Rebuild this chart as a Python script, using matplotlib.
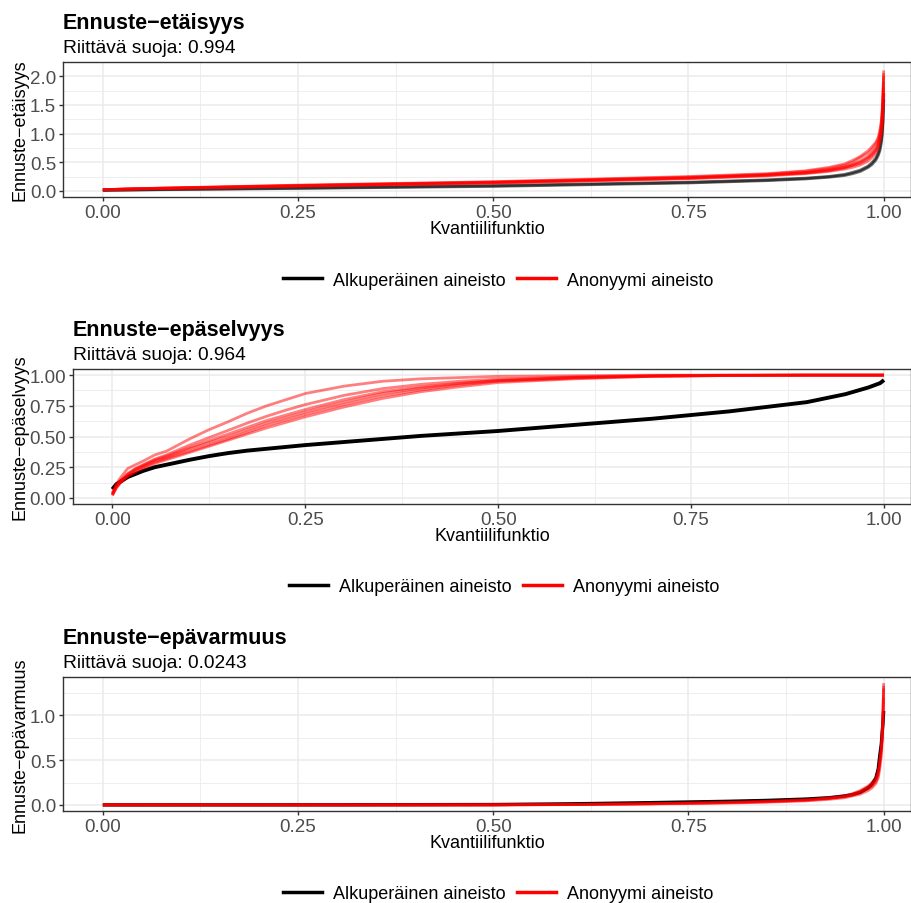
import matplotlib

matplotlib.use("Agg")
import matplotlib.pyplot as plt
from matplotlib.lines import Line2D
from matplotlib.ticker import FormatStrFormatter, MultipleLocator

plt.rcParams["font.family"] = ["Liberation Sans", "DejaVu Sans"]

# --- data: quantile functions --------------------------------------------
# Ennuste-etäisyys
p_eta = [0, 0.05, 0.1, 0.25, 0.5, 0.75, 0.85, 0.9, 0.93, 0.95, 0.96, 0.97, 0.98,
         0.985, 0.99, 0.993, 0.995, 0.997, 0.998, 0.999, 1.0]
eta_orig = [
    [0.01, 0.02, 0.025, 0.045, 0.08, 0.14, 0.18, 0.21, 0.24, 0.27, 0.30, 0.34, 0.41,
     0.46, 0.54, 0.62, 0.70, 0.85, 0.98, 1.20, 1.60],
    [0.01, 0.02, 0.03, 0.05, 0.09, 0.15, 0.19, 0.22, 0.25, 0.285, 0.32, 0.36, 0.43,
     0.49, 0.57, 0.66, 0.75, 0.90, 1.03, 1.25, 1.70],
]
eta_anon = [
    [0.02, 0.04, 0.05, 0.09, 0.15, 0.23, 0.28, 0.32, 0.37, 0.42, 0.46, 0.52, 0.60,
     0.67, 0.75, 0.84, 0.95, 1.12, 1.30, 1.55, 2.10],
    [0.02, 0.04, 0.055, 0.095, 0.155, 0.24, 0.29, 0.34, 0.39, 0.45, 0.50, 0.58, 0.66,
     0.73, 0.82, 0.90, 1.00, 1.18, 1.35, 1.60, 1.90],
    [0.02, 0.035, 0.05, 0.085, 0.14, 0.22, 0.27, 0.31, 0.35, 0.40, 0.44, 0.48, 0.56,
     0.62, 0.70, 0.78, 0.90, 1.05, 1.20, 1.45, 1.80],
    [0.02, 0.04, 0.05, 0.09, 0.145, 0.225, 0.275, 0.315, 0.36, 0.41, 0.45, 0.50, 0.58,
     0.64, 0.72, 0.81, 0.92, 1.08, 1.25, 1.50, 2.00],
    [0.02, 0.04, 0.055, 0.10, 0.16, 0.25, 0.30, 0.35, 0.41, 0.47, 0.53, 0.60, 0.70,
     0.77, 0.85, 0.93, 1.05, 1.22, 1.40, 1.65, 2.05],
    [0.02, 0.035, 0.045, 0.08, 0.135, 0.21, 0.26, 0.30, 0.34, 0.38, 0.41, 0.45, 0.52,
     0.58, 0.66, 0.74, 0.86, 1.00, 1.15, 1.40, 1.70],
]

# Ennuste-epäselvyys
p_sel = [0, 0.005, 0.01, 0.02, 0.03, 0.04, 0.055, 0.07, 0.085, 0.1, 0.125, 0.15, 0.175,
         0.2, 0.225, 0.25, 0.3, 0.35, 0.4, 0.45, 0.5, 0.6, 0.7, 0.8, 0.9, 0.95, 0.98,
         0.995, 1.0]
sel_orig = [
    [0.07, 0.11, 0.13, 0.17, 0.195, 0.22, 0.25, 0.27, 0.29, 0.31, 0.34, 0.365, 0.385,
     0.40, 0.415, 0.43, 0.455, 0.48, 0.505, 0.525, 0.545, 0.595, 0.645, 0.705, 0.78,
     0.845, 0.90, 0.935, 0.96],
]
sel_anon = [
    [0.02, 0.08, 0.12, 0.18, 0.22, 0.25, 0.29, 0.32, 0.35, 0.38, 0.43, 0.48, 0.535,
     0.59, 0.635, 0.68, 0.76, 0.83, 0.88, 0.92, 0.95, 0.975, 0.99, 0.997, 1.0, 1.0,
     1.0, 1.0, 1.0],
    [0.03, 0.09, 0.13, 0.19, 0.23, 0.26, 0.30, 0.33, 0.365, 0.40, 0.45, 0.50, 0.555,
     0.61, 0.655, 0.70, 0.78, 0.85, 0.895, 0.93, 0.955, 0.98, 0.993, 0.998, 1.0, 1.0,
     1.0, 1.0, 1.0],
    [0.02, 0.08, 0.12, 0.175, 0.21, 0.24, 0.28, 0.31, 0.34, 0.37, 0.42, 0.47, 0.52,
     0.57, 0.615, 0.66, 0.74, 0.81, 0.865, 0.905, 0.94, 0.97, 0.99, 0.997, 1.0, 1.0,
     1.0, 1.0, 1.0],
    [0.03, 0.09, 0.13, 0.19, 0.235, 0.265, 0.31, 0.34, 0.375, 0.41, 0.465, 0.52, 0.575,
     0.63, 0.675, 0.72, 0.80, 0.865, 0.905, 0.935, 0.958, 0.982, 0.993, 0.998, 1.0,
     1.0, 1.0, 1.0, 1.0],
    [0.03, 0.10, 0.14, 0.20, 0.24, 0.27, 0.315, 0.35, 0.39, 0.43, 0.49, 0.55, 0.61,
     0.665, 0.715, 0.76, 0.835, 0.89, 0.925, 0.95, 0.968, 0.986, 0.995, 1.0, 1.0, 1.0,
     1.0, 1.0, 1.0],
    [0.04, 0.11, 0.16, 0.24, 0.27, 0.30, 0.35, 0.38, 0.43, 0.48, 0.555, 0.62, 0.69,
     0.75, 0.80, 0.85, 0.91, 0.95, 0.97, 0.98, 0.99, 0.995, 1.0, 1.0, 1.0, 1.0, 1.0,
     1.0, 1.0],
]

# Ennuste-epävarmuus
p_var = [0, 0.3, 0.5, 0.6, 0.7, 0.8, 0.85, 0.9, 0.93, 0.95, 0.96, 0.97, 0.98, 0.985,
         0.99, 0.993, 0.995, 0.997, 0.998, 0.999, 1.0]
var_orig = [
    [0, 0.001, 0.004, 0.012, 0.025, 0.04, 0.05, 0.065, 0.08, 0.10, 0.115, 0.14, 0.19,
     0.23, 0.30, 0.40, 0.55, 0.68, 0.80, 0.90, 1.05],
]
var_anon = [
    [0, 0, 0.001, 0.004, 0.012, 0.025, 0.035, 0.05, 0.07, 0.09, 0.11, 0.14, 0.18, 0.21,
     0.26, 0.33, 0.45, 0.60, 0.75, 0.95, 1.36],
    [0, 0, 0.001, 0.005, 0.014, 0.028, 0.04, 0.058, 0.08, 0.10, 0.125, 0.16, 0.21, 0.25,
     0.30, 0.38, 0.50, 0.65, 0.80, 1.00, 1.30],
    [0, 0, 0.0, 0.003, 0.010, 0.020, 0.03, 0.045, 0.062, 0.08, 0.10, 0.12, 0.16, 0.19,
     0.24, 0.30, 0.40, 0.55, 0.70, 0.90, 1.20],
    [0, 0, 0.001, 0.004, 0.013, 0.026, 0.037, 0.053, 0.075, 0.095, 0.12, 0.15, 0.20,
     0.23, 0.28, 0.36, 0.48, 0.63, 0.78, 0.98, 1.33],
]

titles = ["Ennuste\u2212etäisyys", "Ennuste\u2212epäselvyys", "Ennuste\u2212epävarmuus"]
subtitles = ["Riittävä suoja: 0.994", "Riittävä suoja: 0.964", "Riittävä suoja: 0.0243"]
legend_labels = ["Alkuperäinen aineisto", "Anonyymi aineisto"]

# --- layout (pixels) -------------------------------------------------------
W, H = 912, 904


def fx(px):
    return px / W


def fy(py):
    return 1 - py / H


panels = [
    dict(p=p_eta, orig=eta_orig, anon=eta_anon, box=(63, 63, 911, 198),
         ylim=(-0.107, 2.247), ystep=0.5, yfmt="%.1f", orig_alpha=0.55, orig_lw=2.2,
         legx=498),
    dict(p=p_sel, orig=sel_orig, anon=sel_anon, box=(73, 370, 911, 505),
         ylim=(-0.05, 1.05), ystep=0.25, yfmt="%.2f", orig_alpha=1.0, orig_lw=2.8,
         legx=504),
    dict(p=p_var, orig=var_orig, anon=var_anon, box=(63, 678, 911, 812),
         ylim=(-0.068, 1.428), ystep=0.5, yfmt="%.1f", orig_alpha=1.0, orig_lw=2.4,
         legx=498),
]

fig = plt.figure(figsize=(W / 100, H / 100), dpi=100)

for i, pan in enumerate(panels):
    left, top, right, bottom = pan["box"]
    ax = fig.add_axes([fx(left), fy(bottom), (right - left) / W, (bottom - top) / H])

    for y in pan["orig"]:
        ax.plot(pan["p"], y, color="black", lw=pan["orig_lw"], alpha=pan["orig_alpha"],
                solid_capstyle="butt", zorder=2)
    for y in pan["anon"]:
        ax.plot(pan["p"], y, color="red", lw=2.0, alpha=0.5,
                solid_capstyle="butt", zorder=3)

    ax.set_xlim(-0.051, 1.035)
    ax.set_ylim(*pan["ylim"])
    ax.xaxis.set_major_locator(MultipleLocator(0.25))
    ax.xaxis.set_minor_locator(MultipleLocator(0.125))
    ax.yaxis.set_major_locator(MultipleLocator(pan["ystep"]))
    ax.yaxis.set_minor_locator(MultipleLocator(pan["ystep"] / 2))
    ax.xaxis.set_major_formatter(FormatStrFormatter("%.2f"))
    ax.yaxis.set_major_formatter(FormatStrFormatter(pan["yfmt"]))

    ax.grid(which="major", color="#EBEBEB", lw=1.1)
    ax.grid(which="minor", color="#EBEBEB", lw=0.6)
    ax.set_axisbelow(True)
    for s in ax.spines.values():
        s.set_color("#333333")
        s.set_linewidth(1.0)
    ax.tick_params(which="major", length=3, width=1, color="#333333",
                   labelcolor="#4D4D4D", labelsize=13.5, pad=2)
    ax.tick_params(which="minor", length=0)

    # titles
    fig.text(fx(left), fy(top - 34), titles[i], fontsize=15.5, fontweight="bold",
             va="baseline", ha="left")
    fig.text(fx(left), fy(top - 10), subtitles[i], fontsize=13.8, va="baseline", ha="left")

    # axis titles
    fig.text(fx((left + right) / 2), fy(bottom + 32), "Kvantiilifunktio", fontsize=13,
             ha="center", va="center")
    fig.text(fx(20), fy((top + bottom) / 2), titles[i], fontsize=13, rotation=90,
             ha="center", va="center")

    handles = [Line2D([], [], color="black", lw=2.5), Line2D([], [], color="red", lw=2.5)]
    fig.legend(handles, legend_labels, loc="center",
               bbox_to_anchor=(fx(pan["legx"]), fy(bottom + 83)),
               ncol=2, frameon=False, fontsize=13, handlelength=2.2, handletextpad=0.6,
               columnspacing=0.6)

fig.savefig("out.png", dpi=100)
